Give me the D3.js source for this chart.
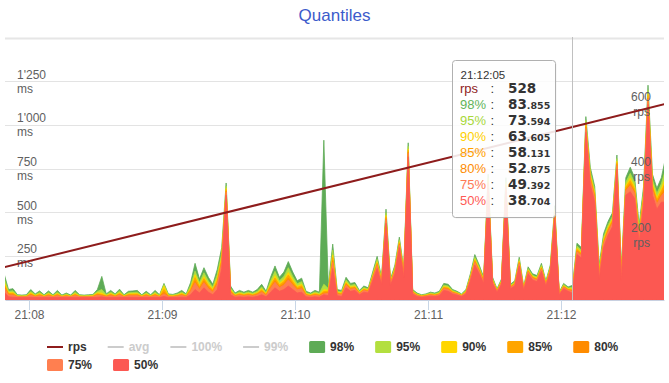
<!DOCTYPE html>
<html><head><meta charset="utf-8">
<script src="https://cdn.jsdelivr.net/npm/d3@7"></script>
<style>
html,body{margin:0;padding:0;background:#fff;}
svg{display:block;font-family:"Liberation Sans",Arial,sans-serif;}
</style></head><body>
<svg id="chart" width="669" height="383"></svg>
<script>
// ---------------- data ----------------
const chartTitle = "Quantiles";
const startTime = "21:07:49";
const stepSeconds = 2;

const p98 = [150,60,65,30,28,30,60,35,52,30,
52,30,55,28,40,28,55,30,28,30,
32,60,135,35,55,35,62,30,50,52,
55,30,50,30,55,30,95,35,32,40,
55,35,100,210,120,185,130,90,175,300,
670,80,40,55,45,55,45,60,90,50,
130,195,130,160,220,160,110,125,50,40,
55,45,915,80,320,60,55,130,95,100,
55,80,70,160,250,130,520,120,200,360,
180,900,60,40,30,35,45,40,50,95,
90,60,50,35,60,150,260,200,130,720,
130,65,120,700,90,110,245,80,190,150,
140,210,110,200,540,45,95,75,83.855,325,
300,1050,760,650,200,380,450,500,830,180,
700,760,700,430,650,1230,720,640,700,820];

const p95 = [124,50,53,26,24,26,49,30,43,26,
43,26,45,24,34,24,45,26,24,26,
28,49,60,30,45,30,51,26,41,43,
45,26,41,26,45,26,88,30,28,34,
45,30,83,165,100,156,109,75,146,270,
653,68,34,46,38,46,38,50,75,42,
109,164,110,135,185,135,93,105,42,34,
46,38,90,66,285,51,46,115,84,89,
49,71,63,148,233,120,500,111,188,345,
168,880,54,35,27,31,39,35,44,85,
80,54,45,31,54,140,245,188,121,700,
121,60,113,680,84,103,233,74,180,141,
131,199,103,190,523,41,88,69,73.594,309,
285,1028,735,628,180,360,430,480,810,163,
675,725,670,405,623,1203,690,610,665,755];

const p90 = [104,42,43,23,22,23,41,26,36,23,
36,23,37,22,29,22,37,23,22,23,
24,41,40,26,37,26,42,23,35,36,
37,23,35,23,37,23,80,26,24,29,
38,26,69,144,85,134,93,64,124,247,
639,58,29,39,32,39,32,42,64,36,
93,140,95,116,158,116,79,90,36,29,
39,32,60,56,258,45,40,104,75,80,
44,65,57,138,219,112,485,105,178,334,
158,865,49,31,24,28,35,31,39,77,
72,49,40,28,49,132,234,178,115,685,
115,56,107,665,79,97,223,69,172,135,
125,190,97,182,509,38,82,64,63.605,296,
274,1010,716,610,165,345,415,465,795,149,
656,698,647,386,602,1182,667,587,638,706];

const p85 = [92,37,38,21,20,21,36,23,32,21,
32,21,33,20,26,20,33,21,20,21,
22,36,32,23,33,23,37,21,31,32,
33,21,31,21,33,21,60,23,22,26,
34,24,62,128,76,122,83,57,112,234,
632,53,27,35,29,35,29,38,57,32,
83,126,86,105,143,105,72,81,32,27,
35,29,48,50,243,41,36,97,70,75,
41,61,54,133,212,108,476,101,173,327,
153,856,46,29,22,26,32,29,36,73,
68,46,38,27,46,128,227,173,111,676,
111,54,104,656,76,94,218,66,168,131,
121,185,94,178,502,37,79,61,58.131,289,
267,1001,705,601,156,336,406,456,786,142,
645,683,634,375,590,1170,654,574,623,677];

const p80 = [80,32,32,19,19,19,31,21,27,19,
27,19,28,19,23,19,28,19,19,19,
20,31,27,21,28,21,31,19,27,27,
28,19,27,19,28,19,45,21,20,23,
29,22,53,110,66,108,73,50,98,220,
623,47,24,30,26,30,26,33,50,29,
73,111,76,93,126,93,63,71,29,24,
30,26,40,43,226,37,32,90,65,70,
38,57,50,127,203,103,466,97,167,320,
147,846,43,27,21,24,30,27,33,68,
63,43,35,25,43,123,220,167,107,666,
107,52,100,646,73,90,212,63,163,127,
117,180,90,173,493,35,75,58,52.875,281,
260,990,693,590,146,326,396,446,776,133,
633,666,620,363,576,1156,640,560,606,646];

const p75 = [71,29,28,18,18,18,27,19,24,18,
24,18,25,18,21,18,25,18,18,18,
19,27,24,19,25,19,28,18,24,24,
25,18,24,18,25,18,35,19,19,21,
26,20,48,98,60,99,66,45,89,210,
618,43,22,27,23,27,23,30,45,26,
66,101,70,85,115,85,58,65,26,22,
27,23,35,39,215,34,29,85,61,66,
36,54,48,123,198,100,460,94,163,315,
143,840,41,25,20,22,28,25,31,65,
60,41,34,24,41,120,215,163,104,660,
104,50,98,640,71,88,208,61,160,124,
114,176,88,170,488,34,73,56,49.392,276,
255,983,685,583,140,320,390,440,770,128,
625,655,610,355,568,1148,630,550,595,625];

const p50 = [45,18,16,14,14,14,16,14,15,14,
15,14,15,14,15,14,15,14,14,14,
14,16,18,14,15,14,16,14,15,15,
15,14,15,14,15,14,20,14,14,15,
16,15,30,60,40,70,45,30,60,180,
600,30,16,18,16,18,16,20,30,18,
45,70,50,60,80,60,40,45,18,16,
18,16,30,25,180,25,20,70,50,55,
30,45,40,110,180,90,440,85,150,300,
130,820,35,20,16,18,22,20,25,55,
50,35,28,20,35,110,200,150,95,640,
95,45,90,620,65,80,195,55,150,115,
105,165,80,160,470,30,65,50,38.704,260,
240,960,660,560,120,300,370,420,750,110,
600,620,580,330,540,1120,600,520,560,560];

const rpsTimes = ["21:07:49","21:12:05","21:12:47"];
const rpsValues = [100, 528, 599];

const msTicks = [250, 500, 750, 1000, 1250];
const msGridValues = [250, 500, 750, 1000, 1250, 1500];
const rpsTicks = [200, 400, 600];
const timeTicks = ["21:08:00","21:09:00","21:10:00","21:11:00","21:12:00"];
const tooltipTime = "21:12:05";

const quantileNames = ["98%","95%","90%","85%","80%","75%","50%"];
const quantileSeries = [p98, p95, p90, p85, p80, p75, p50];
const legendNames = ["rps","avg","100%","99%","98%","95%","90%","85%","80%","75%","50%"];
const hiddenNames = ["avg","100%","99%"];

// ---------------- styles ----------------
const colors = {
  "rps":"#8e1c1c","98%":"#5eab56","95%":"#b3df3f","90%":"#ffd600",
  "85%":"#ffa500","80%":"#ff8c00","75%":"#ff7f50","50%":"#fc5852"
};
const tipColors = {
  "rps":"#8e1c1c","98%":"#62b55a","95%":"#a8d83a","90%":"#ffd000",
  "85%":"#ffa000","80%":"#ff8c00","75%":"#ff7a55","50%":"#ff5a55"
};

// ---------------- drawing ----------------
const W = 669, H = 383;
const plot = {left:5, right:664, top:38, bottom:300};
const svg = d3.select("#chart");
const parseT = d3.timeParse("%H:%M:%S");
const t0 = parseT(startTime);
const times = p50.map((_, i) => new Date(+t0 + i * stepSeconds * 1000));

const x = d3.scaleTime()
  .domain([new Date(+parseT("21:07:49") + 400), new Date(+parseT("21:12:46") + 200)])
  .range([plot.left, plot.right]);
const yMs = d3.scaleLinear().domain([0, 1500]).range([plot.bottom, plot.top]);
const yRps = d3.scaleLinear().domain([0, 800]).range([plot.bottom, plot.top]);

// title
svg.append("text").attr("x", W/2).attr("y", 21).attr("text-anchor","middle")
  .attr("font-size", 17).attr("fill", "#3b5bcb").text(chartTitle);

// clip
svg.append("defs").append("clipPath").attr("id","clip")
  .append("rect").attr("x", plot.left).attr("y", 0)
  .attr("width", plot.right - plot.left).attr("height", plot.bottom);

// gridlines
const grid = svg.append("g").attr("transform", `translate(${plot.left},0)`)
  .call(d3.axisLeft(yMs).tickValues(msGridValues).tickSize(-(plot.right - plot.left)).tickFormat(""));
grid.select(".domain").remove();
grid.selectAll(".tick line").attr("stroke", "#e3e3e3").attr("stroke-width", 1);
grid.selectAll(".tick").attr("transform", d => `translate(0,${Math.floor(yMs(d)) + 0.5})`);
grid.selectAll(".tick").filter(d => d === 1500).select("line").attr("stroke","#e6e6e6").attr("stroke-width", 2);

// areas
const areaG = svg.append("g").attr("clip-path", "url(#clip)");
quantileNames.forEach((name, k) => {
  const vals = quantileSeries[k];
  const area = d3.area().x((d, i) => x(times[i])).y0(yMs(0)).y1(d => yMs(d));
  areaG.append("path").datum(vals).attr("d", area)
    .attr("fill", colors[name]).attr("stroke", colors[name]).attr("stroke-width", 0.8)
    .attr("stroke-linejoin", "round");
});

// x axis
const xa = svg.append("g").attr("transform", `translate(0,${plot.bottom})`)
  .call(d3.axisBottom(x).tickValues(timeTicks.map(parseT)).tickFormat(d3.timeFormat("%H:%M"))
    .tickSize(10).tickSizeOuter(0).tickPadding(0));
xa.select(".domain").attr("stroke", "#c8d0e0");
xa.selectAll(".tick line").attr("stroke", "#c8d6e6");
xa.selectAll(".tick text").attr("font-family", '"Liberation Sans",Arial,sans-serif')
  .attr("font-size", 12).attr("fill", "#606060");
xa.selectAll(".tick").attr("transform", d => `translate(${Math.round(x(d)) + 0.5},0)`);

// y labels (ms on left, rps on right)
const fmtLocale = d3.formatLocale({decimal:".", thousands:"'", grouping:[3], currency:["",""]});
const fmt = fmtLocale.format(",");
const labelG = svg.append("g").attr("font-size", 12).attr("fill", "#606060");
msTicks.forEach(v => {
  const yy = yMs(v);
  labelG.append("text").attr("x", 17).attr("y", yy - 3).text(fmt(v));
  labelG.append("text").attr("x", 17).attr("y", yy + 11).text("ms");
});
rpsTicks.forEach(v => {
  const yy = yRps(v);
  labelG.append("text").attr("x", 651).attr("y", yy - 3).attr("text-anchor","end").text(fmt(v));
  labelG.append("text").attr("x", 650).attr("y", yy + 12).attr("text-anchor","end").text("rps");
});

// rps line
const rpsLine = d3.line().x(d => x(parseT(d[0]))).y(d => yRps(d[1]));
svg.append("g").attr("clip-path", "url(#clip)").append("path")
  .datum(rpsTimes.map((t, i) => [t, rpsValues[i]]))
  .attr("d", rpsLine).attr("fill", "none").attr("stroke", colors["rps"]).attr("stroke-width", 2);

// crosshair
const tipIndex = times.findIndex(t => d3.timeFormat("%H:%M:%S")(t) === tooltipTime);
const px = x(parseT(tooltipTime));
svg.append("line").attr("x1", Math.round(px) - 0.5).attr("x2", Math.round(px) - 0.5)
  .attr("y1", plot.top - 1).attr("y2", plot.bottom).attr("stroke", "#c0c0c0").attr("stroke-width", 1);

// tooltip
const boxW = 103, boxH = 157;
const boxX = Math.round(px - 18 - boxW) + 0.5, boxY = 60.5;
const tip = svg.append("g");
tip.append("rect").attr("x", boxX + 1).attr("y", boxY + 1).attr("width", boxW).attr("height", boxH)
  .attr("rx", 3).attr("fill", "rgba(0,0,0,0.06)");
tip.append("rect").attr("x", boxX).attr("y", boxY).attr("width", boxW).attr("height", boxH)
  .attr("rx", 3).attr("fill", "rgba(255,255,255,0.88)").attr("stroke", "#b0b0b0").attr("stroke-width", 1);
tip.append("text").attr("x", boxX + 8).attr("y", boxY + 18.5).attr("font-size", 11.5).attr("fill", "#333")
  .text(tooltipTime);
const rows = [["rps", rpsValues[rpsTimes.indexOf(tooltipTime)]]]
  .concat(quantileNames.map((n, k) => [n, quantileSeries[k][tipIndex]]));
rows.forEach((r, k) => {
  const by = boxY + 32.5 + k * 16;
  tip.append("text").attr("x", boxX + 7.5).attr("y", by).attr("font-size", 13)
    .attr("fill", tipColors[r[0]]).text(r[0]);
  tip.append("text").attr("x", boxX + 38).attr("y", by).attr("font-size", 13)
    .attr("fill", "#333").text(":");
  const s = String(r[1]);
  const parts = s.split(".");
  const t = tip.append("text").attr("x", boxX + 55.5).attr("y", by)
    .attr("font-family", '"DejaVu Sans",sans-serif').attr("font-weight", "bold").attr("fill", "#333");
  t.append("tspan").attr("font-size", 13.5).text(parts[0]);
  if (parts.length > 1) t.append("tspan").attr("font-size", 9.5).text("." + parts[1]);
});

// legend
const legend = svg.append("g").attr("font-size", 12).attr("font-weight", "bold");
const measure = svg.append("text").attr("font-size", 12).attr("font-weight", "bold");
const items = legendNames.map(n => {
  measure.text(n);
  return {name: n, w: measure.node().getComputedTextLength()};
});
measure.remove();
const symW = 21, gap = 21, maxRow = 620;
const rowsL = [[]]; let cur = 0;
items.forEach(it => {
  const iw = symW + it.w;
  if (cur > 0 && cur + iw > maxRow) { rowsL.push([]); cur = 0; }
  it.x = cur; rowsL[rowsL.length - 1].push(it); cur += iw + gap;
});
const boxWidth = d3.max(rowsL, r => r[r.length - 1].x + symW + r[r.length - 1].w);
const lx0 = Math.round((W - boxWidth) / 2) - 2;
rowsL.forEach((r, ri) => {
  const cy = 347 + ri * 18;
  r.forEach(it => {
    const hidden = hiddenNames.includes(it.name);
    const col = hidden ? "#cccccc" : colors[it.name];
    const gx = lx0 + it.x;
    if (it.name === "rps" || hidden) {
      legend.append("line").attr("x1", gx).attr("x2", gx + 16).attr("y1", cy).attr("y2", cy)
        .attr("stroke", col).attr("stroke-width", 2);
    } else {
      legend.append("rect").attr("x", gx).attr("y", cy - 6).attr("width", 16).attr("height", 12)
        .attr("rx", 1.5).attr("fill", col);
    }
    legend.append("text").attr("x", gx + symW).attr("y", cy + 4.3)
      .attr("fill", hidden ? "#cccccc" : "#333333").text(it.name);
  });
});
</script>
</body></html>
